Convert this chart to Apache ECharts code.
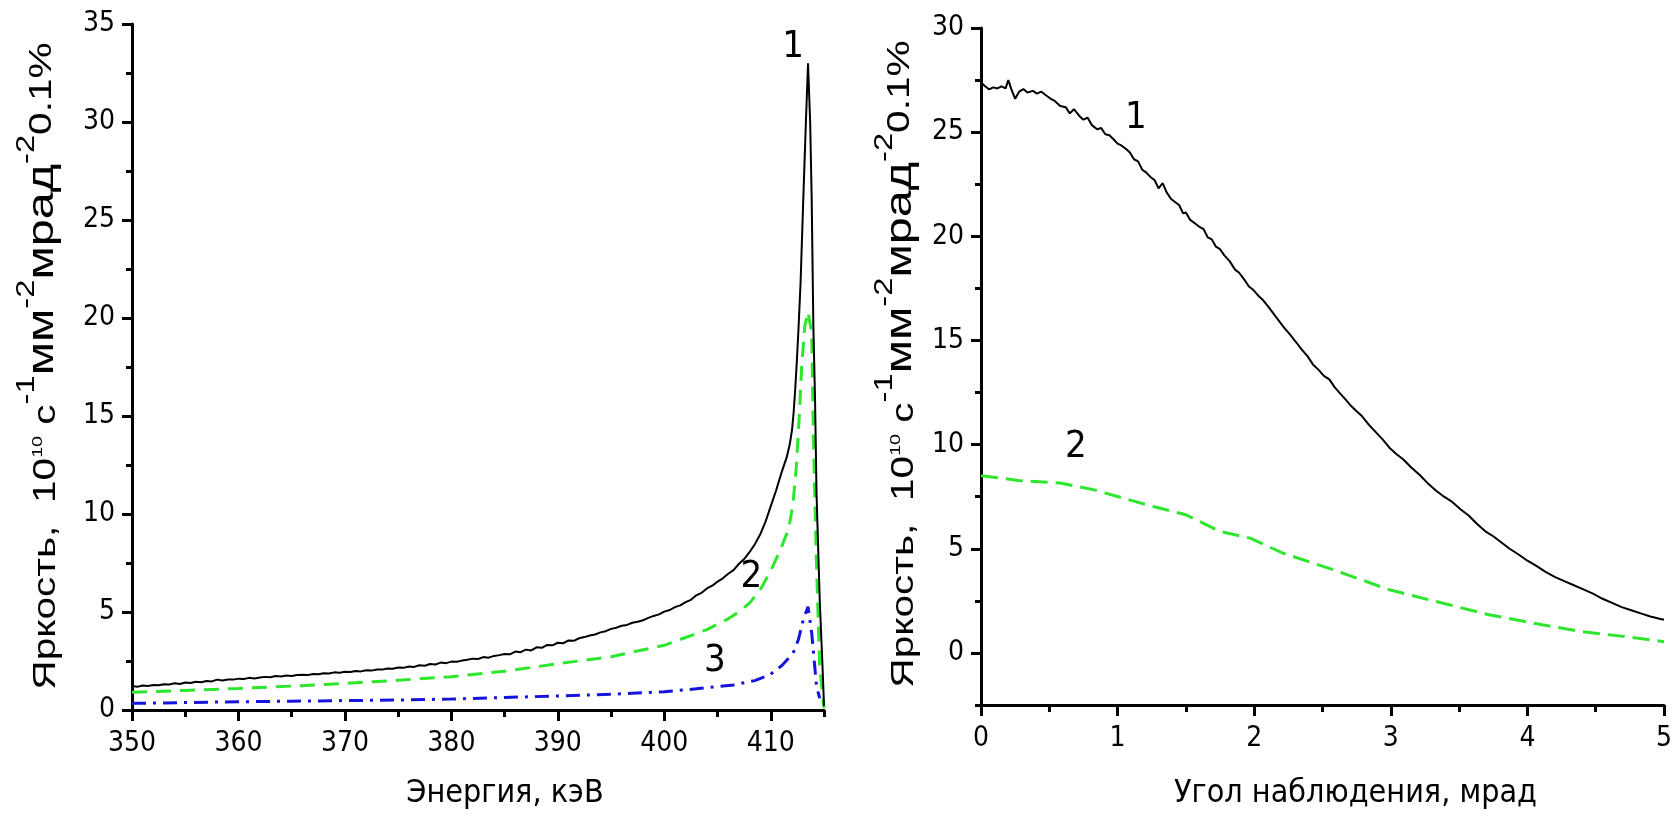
<!DOCTYPE html>
<html><head><meta charset="utf-8">
<script src="https://cdn.jsdelivr.net/npm/echarts@6/dist/echarts.min.js"></script>
<style>html,body{margin:0;padding:0;background:#fff}#c{width:1675px;height:821px}</style>
</head><body><div id="c"></div>
<script>
// ---------- Left panel: brightness vs energy ----------
const energy1 = [350,350.5,351,351.5,352,352.5,353,353.5,354,354.5,355,355.5,356,356.5,357,357.5,358,358.5,359,359.5,
360,360.5,361,361.5,362,362.5,363,363.5,364,364.5,365,365.5,366,366.5,367,367.5,368,368.5,369,369.5,
370,370.5,371,371.5,372,372.5,373,373.5,374,374.5,375,375.5,376,376.5,377,377.5,378,378.5,379,379.5,
380,380.5,381,381.5,382,382.5,383,383.5,384,384.5,385,385.5,386,386.5,387,387.5,388,388.5,389,389.5,
390,390.5,391,391.5,392,392.5,393,393.5,394,394.5,395,395.5,396,396.5,397,397.5,398,398.5,399,399.5,
400,400.5,401,401.5,402,402.5,403,403.5,404,404.5,405,405.5,406,406.5,407,407.5,408,408.5,409,409.5,
410,410.5,411,411.5,411.8,412,412.15,412.3,412.45,412.6,412.8,413.05,413.3,413.5,413.7,413.84,414,414.16,414.3,414.6,414.9,415];
const bright1 = [1.22,1.19,1.25,1.23,1.28,1.26,1.31,1.30,1.36,1.33,1.40,1.38,1.44,1.42,1.48,1.46,1.55,1.50,1.56,1.55,
1.60,1.58,1.64,1.61,1.66,1.69,1.67,1.73,1.71,1.76,1.74,1.79,1.80,1.78,1.84,1.82,1.88,1.86,1.92,1.90,
1.95,1.94,1.99,1.97,2.03,2.01,2.07,2.06,2.12,2.10,2.17,2.15,2.22,2.20,2.28,2.26,2.35,2.32,2.42,2.39,
2.47,2.46,2.52,2.56,2.62,2.60,2.70,2.67,2.76,2.80,2.86,2.84,2.98,2.95,3.08,3.04,3.20,3.17,3.32,3.30,
3.43,3.40,3.55,3.53,3.66,3.72,3.80,3.85,3.96,4.02,4.14,4.20,4.30,4.34,4.45,4.50,4.58,4.70,4.80,4.88,
5.02,5.10,5.25,5.34,5.50,5.62,5.85,5.98,6.20,6.34,6.55,6.72,6.95,7.14,7.45,7.70,8.05,8.45,8.95,9.60,
10.4,11.2,12.1,12.9,13.6,14.3,15.2,16.4,17.8,19.4,21.8,26.0,30.0,33.0,30.0,26.2,19.6,15.8,11.0,5.6,1.7,0.2];

const energy2 = [350,355,360,365,370,375,380,385,390,395,400,402,404,406,407,408,409,410,411,411.5,411.8,412.1,412.4,412.7,412.9,413.2,413.5,413.85,414,414.15,414.3,414.6,415];
const bright2 = [0.90,1.00,1.10,1.22,1.36,1.52,1.70,1.98,2.36,2.72,3.30,3.70,4.10,4.65,5.00,5.45,6.12,7.10,8.30,9.00,9.60,10.6,12.4,15.2,17.5,19.6,20.3,19.2,14.1,10.6,7.3,2.2,0.1];

const energy3 = [350,355,360,365,370,375,380,387.7,395,400,403,406.5,408.5,409.9,411,412.1,412.6,413.05,413.5,413.85,414.1,414.3,414.6];
const bright3 = [0.34,0.38,0.42,0.45,0.48,0.51,0.56,0.68,0.80,0.93,1.08,1.28,1.50,1.79,2.25,2.90,3.60,4.60,5.27,3.90,2.40,1.20,0.60];

const energyTicks = [350,360,370,380,390,400,410];
const energyMinor = [355,365,375,385,395,405,415];
const brightTicksL = [0,5,10,15,20,25,30,35];
const brightMinorL = [2.5,7.5,12.5,17.5,22.5,27.5,32.5];

// ---------- Right panel: brightness vs observation angle ----------
const angle1 = [0,0.03,0.06,0.09,0.12,0.15,0.18,0.20,0.22,0.25,0.28,0.31,0.34,0.38,0.41,0.44,0.48,0.51,0.54,0.58,
0.62,0.65,0.68,0.72,0.75,0.78,0.81,0.85,0.88,0.91,0.94,0.97,1.00,1.03,1.06,1.09,1.12,1.15,1.18,1.21,
1.24,1.27,1.30,1.33,1.36,1.39,1.42,1.45,1.48,1.50,1.53,1.57,1.60,1.63,1.66,1.69,1.72,1.75,1.78,1.82,
1.86,1.89,1.93,1.96,1.99,2.03,2.06,2.10,2.14,2.18,2.22,2.26,2.31,2.35,2.39,2.43,2.47,2.51,2.55,2.59,
2.63,2.67,2.71,2.75,2.79,2.84,2.89,2.94,2.99,3.04,3.09,3.15,3.21,3.27,3.33,3.39,3.45,3.51,3.57,3.63,
3.69,3.75,3.81,3.87,3.93,3.99,4.06,4.13,4.20,4.27,4.34,4.41,4.48,4.55,4.62,4.69,4.76,4.83,4.90,4.96,5.00];
const brightA1 = [27.39,27.2,27.05,27.15,27.1,27.2,27.1,27.5,27.1,26.6,26.95,27.07,26.9,26.98,26.85,26.95,26.75,26.6,26.5,26.26,
26.2,25.9,26.1,25.78,25.6,25.7,25.35,25.14,25.2,24.9,24.85,24.66,24.45,24.35,24.2,24.02,23.7,23.6,23.2,23.06,
22.85,22.7,22.3,22.55,22.1,21.8,21.65,21.5,21.1,21.14,20.8,20.6,20.45,20.34,19.95,19.85,19.5,19.38,19.1,18.81,
18.4,18.25,17.9,17.6,17.45,17.15,16.97,16.65,16.3,15.95,15.6,15.3,14.89,14.55,14.25,13.85,13.6,13.3,13.13,12.75,
12.45,12.16,11.85,11.6,11.36,10.95,10.6,10.25,9.85,9.55,9.3,8.9,8.55,8.15,7.8,7.5,7.25,6.9,6.6,6.2,
5.85,5.6,5.3,5.0,4.75,4.47,4.2,3.9,3.65,3.45,3.25,3.05,2.85,2.6,2.4,2.2,2.05,1.9,1.75,1.65,1.59];

const angle2 = [0,0.285,0.58,0.82,1.02,1.26,1.50,1.75,1.97,2.21,2.58,2.99,3.33,3.72,4.11,4.40,4.72,5.00];
const brightA2 = [8.51,8.27,8.16,7.84,7.47,7.03,6.63,5.83,5.51,4.79,3.99,3.03,2.47,1.83,1.35,1.02,0.78,0.54];

const angleTicks = [0,1,2,3,4,5];
const angleMinor = [0.5,1.5,2.5,3.5,4.5];
const brightTicksR = [0,5,10,15,20,25,30];
const brightMinorR = [-2.5,2.5,7.5,12.5,17.5,22.5,27.5];

// curve number labels [x, y, text]
const labelsL = [[412.09, 33.8, '1'], [408.18, 6.79, '2'], [404.76, 2.5, '3']];
const labelsR = [[1.133, 25.67, '1'], [0.694, 9.9, '2']];

const xTitleL = 'Энергия, кэВ';
const xTitleR = 'Угол наблюдения, мрад';
const yTitleRich = '{m|Яркость,  10}{t|10}{m| с}{s|-1}{u|мм}{s|-2}{u|мрад}{s|-2}{p|0.1%}';

// ---------- styles ----------
const narrow = "'Liberation Sans Narrow','Arial Narrow','DejaVu Sans Condensed',sans-serif";
const regular = "'Liberation Sans',Arial,sans-serif";
const zip = (a, b) => a.map((v, i) => [v, b[i]]);
const axisLineStyle = {color: '#000', width: 3};

function majorAxis(grid, min, max, ticks, isX, extra) {
  return Object.assign({
    type: 'value', gridIndex: grid, min: min, max: max,
    position: isX ? 'bottom' : 'left',
    axisLine: {show: true, onZero: false, lineStyle: axisLineStyle},
    axisTick: {show: true, length: isX ? 11 : 10, customValues: ticks, lineStyle: {color: '#000', width: 3}},
    axisLabel: {show: true, customValues: ticks, color: '#000', fontSize: 28, fontFamily: narrow, margin: isX ? 20 : 17},
    splitLine: {show: false}
  }, extra || {});
}
function minorAxis(grid, min, max, ticks, isX) {
  return {
    type: 'value', gridIndex: grid, min: min, max: max,
    position: isX ? 'bottom' : 'left',
    axisLine: {show: false, onZero: false},
    axisTick: {show: true, length: isX ? 7 : 6, customValues: ticks, lineStyle: {color: '#000', width: 3}},
    axisLabel: {show: false},
    splitLine: {show: false}
  };
}
function markLabels(list) {
  return {
    symbol: 'circle', symbolSize: 0, silent: true,
    label: {show: true, position: 'inside', color: '#000', fontSize: 38, fontFamily: narrow, formatter: p => p.name},
    data: list.map(l => ({coord: [l[0], l[1]], name: l[2]}))
  };
}
const titleRich = {
  m: {fontSize: 31, fontFamily: regular, fill: '#000', verticalAlign: 'bottom'},
  u: {fontSize: 37, fontFamily: regular, fill: '#000', verticalAlign: 'bottom'},
  p: {fontSize: 31, fontFamily: regular, fill: '#000', verticalAlign: 'bottom', padding: [0, 0, 4, 0]},
  s: {fontSize: 25, fontFamily: regular, fill: '#000', verticalAlign: 'top', padding: [0, 0, 22, 0]},
  t: {fontSize: 15, fontFamily: regular, fill: '#000', verticalAlign: 'top', padding: [16, 0, 0, 0]}
};

const chart = echarts.init(document.getElementById('c'), null, {renderer: 'canvas'});
chart.setOption({
  animation: false,
  backgroundColor: '#fff',
  grid: [
    {left: 132, top: 24, width: 692, height: 686, containLabel: false},
    {left: 981, top: 28, width: 684, height: 677, containLabel: false}
  ],
  xAxis: [
    majorAxis(0, 350, 415, energyTicks, true, {name: xTitleL, nameLocation: 'middle', nameGap: 68,
      nameTextStyle: {color: '#000', fontSize: 32, fontFamily: narrow, padding: [0, 0, 0, 54]}}),
    minorAxis(0, 350, 415, energyMinor, true),
    majorAxis(1, 0, 5, angleTicks, true, {name: xTitleR, nameLocation: 'middle', nameGap: 73,
      nameTextStyle: {color: '#000', fontSize: 32, fontFamily: narrow, padding: [0, 0, 0, 66]}}),
    minorAxis(1, 0, 5, angleMinor, true)
  ],
  yAxis: [
    majorAxis(0, 0, 35, brightTicksL, false),
    minorAxis(0, 0, 35, brightMinorL, false),
    majorAxis(1, -2.5, 30, brightTicksR, false),
    minorAxis(1, -2.5, 30, brightMinorR, false)
  ],
  graphic: [
    {type: 'text', x: 38, y: 366, rotation: Math.PI / 2, scaleX: 1.31, scaleY: 1,
      style: {text: yTitleRich, rich: titleRich, align: 'center', verticalAlign: 'middle', fill: '#000'}},
    {type: 'text', x: 896, y: 364, rotation: Math.PI / 2, scaleX: 1.31, scaleY: 1,
      style: {text: yTitleRich, rich: titleRich, align: 'center', verticalAlign: 'middle', fill: '#000'}}
  ],
  series: [
    {type: 'line', xAxisIndex: 0, yAxisIndex: 0, data: zip(energy1, bright1), showSymbol: false, symbol: 'none',
      lineStyle: {color: '#000', width: 2}, z: 3, markPoint: markLabels(labelsL)},
    {type: 'line', xAxisIndex: 0, yAxisIndex: 0, data: zip(energy2, bright2), showSymbol: false, symbol: 'none',
      lineStyle: {color: '#2ee62e', width: 3, type: [15, 9]}, z: 2},
    {type: 'line', xAxisIndex: 0, yAxisIndex: 0, data: zip(energy3, bright3), showSymbol: false, symbol: 'none',
      lineStyle: {color: '#1414dc', width: 3, type: [14, 7, 3, 7]}, z: 2},
    {type: 'line', xAxisIndex: 2, yAxisIndex: 2, data: zip(angle1, brightA1), showSymbol: false, symbol: 'none',
      lineStyle: {color: '#000', width: 2}, z: 3, markPoint: markLabels(labelsR)},
    {type: 'line', xAxisIndex: 2, yAxisIndex: 2, data: zip(angle2, brightA2), showSymbol: false, symbol: 'none',
      lineStyle: {color: '#2ee62e', width: 3, type: [17, 8]}, z: 2}
  ]
});
</script>
</body></html>
